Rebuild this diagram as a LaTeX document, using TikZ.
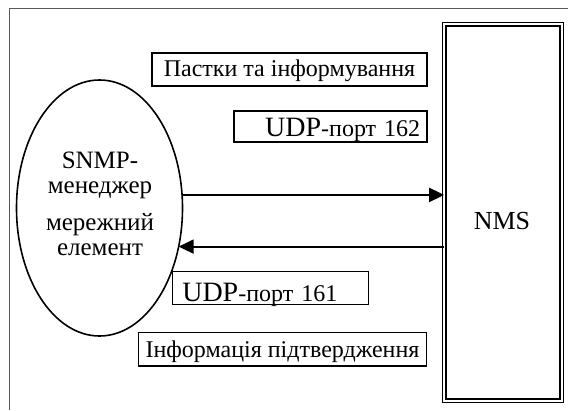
\documentclass[tikz,border=0pt]{standalone}
\usepackage{fontspec}
\setmainfont{Liberation Serif}
\usetikzlibrary{arrows.meta,shapes.geometric}
\begin{document}
\begin{tikzpicture}[x=1pt,y=-1pt,
  every node/.style={inner sep=0pt, outer sep=0pt},
  txt/.style={font=\fontsize{24}{26}\selectfont},
  labelbox/.style={draw, line width=1.5pt, txt},
  flow/.style={line width=2pt, -{Triangle[length=15pt,width=14pt]}},
  frame/.style={draw=black!65, line width=1.4pt}]
\useasboundingbox (0,0) rectangle (568,410);
% outer frame (only the top and left edges fall inside the page)
\draw[frame] (9.3,410) |- (568,8.5);

% SNMP manager / network element
\node[ellipse, draw, line width=1.6pt, minimum width=166pt, minimum height=256pt]
  (mgr) at (99.5,208) {};
\node[align=center, font=\fontsize{25}{25}\selectfont] (mgrtext) at (100,204)
  {SNMP-\\менеджер\\[12pt]мережний\\елемент};

% network management station
\node[draw, double, double distance=2pt, line width=1.5pt,
  minimum width=117.6pt, minimum height=376.4pt] (nms) at (503,212.4) {};
\node[font=\fontsize{26}{26}\selectfont] (nmstext) at (502,221) {NMS};

% message labels
\node[labelbox, minimum width=275pt, minimum height=33pt,
  text height=17pt, text depth=2.6pt] (traps) at (289.5,69.5)
  {Пастки та інформування};
\node[labelbox, minimum height=31pt, text width=179pt, inner xsep=7pt,
  align=right, text height=20pt, text depth=0pt] (port162) at (330.7,126.5)
  {{\fontsize{28}{28}\selectfont UDP}-порт 162};
\node[labelbox, minimum height=32.6pt, text width=176pt, inner xsep=10pt,
  align=left, text height=26pt, text depth=0pt] (port161) at (270.3,288)
  {{\fontsize{28}{28}\selectfont UDP}-порт 161};
\node[labelbox, minimum width=288.4pt, minimum height=33.7pt,
  text height=17pt, text depth=1pt] (ack) at (282.5,349.2)
  {Інформація підтвердження};

% request and response flows
\draw[flow] (mgr.9.63) -- (mgr.9.63 -| nms.west);
\draw[flow] (mgr.-26.9 -| nms.west) -- (mgr.-26.9);
\end{tikzpicture}
\end{document}
